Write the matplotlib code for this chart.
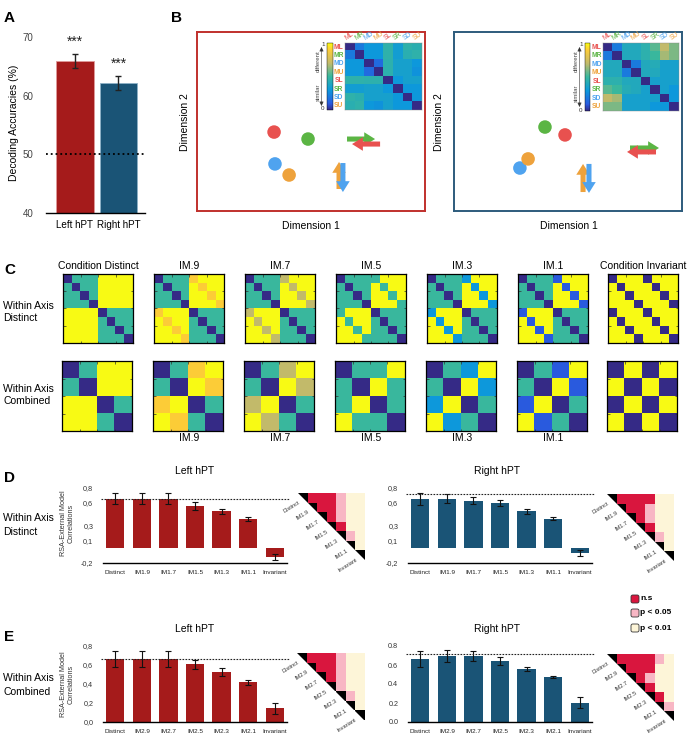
import numpy as np
import matplotlib
matplotlib.use('Agg')
import matplotlib.pyplot as plt
from matplotlib.colors import LinearSegmentedColormap, ListedColormap, Normalize
from matplotlib.patches import FancyArrowPatch, FancyBboxPatch, Polygon
from matplotlib.cm import ScalarMappable

plt.rcParams['font.family'] = ['Liberation Sans', 'DejaVu Sans']

# ---------------- data ----------------
# Panel A
a_regions = ['Left hPT', 'Right hPT']
a_accuracy = [65.9, 62.2]
a_sem = [1.2, 1.2]
a_chance = 50
a_stars = ['***', '***']
a_yticks = [40, 50, 60, 70]

# Panel B
cond_labels = ['ML', 'MR', 'MD', 'MU', 'SL', 'SR', 'SD', 'SU']
b_left_rdm = [
    [0.00, 0.20, 0.30, 0.30, 0.46, 0.33, 0.46, 0.44],
    [0.20, 0.00, 0.30, 0.30, 0.46, 0.33, 0.44, 0.46],
    [0.30, 0.30, 0.00, 0.15, 0.45, 0.35, 0.35, 0.30],
    [0.30, 0.30, 0.15, 0.00, 0.45, 0.35, 0.35, 0.28],
    [0.46, 0.46, 0.45, 0.45, 0.00, 0.30, 0.35, 0.35],
    [0.33, 0.33, 0.35, 0.35, 0.30, 0.00, 0.30, 0.30],
    [0.46, 0.44, 0.35, 0.35, 0.35, 0.30, 0.00, 0.30],
    [0.44, 0.46, 0.30, 0.28, 0.35, 0.30, 0.30, 0.00]]
b_right_rdm = [
    [0.00, 0.20, 0.40, 0.40, 0.45, 0.55, 0.70, 0.60],
    [0.20, 0.00, 0.40, 0.40, 0.45, 0.50, 0.66, 0.60],
    [0.40, 0.40, 0.00, 0.20, 0.40, 0.42, 0.35, 0.35],
    [0.40, 0.40, 0.20, 0.00, 0.40, 0.40, 0.35, 0.35],
    [0.45, 0.45, 0.40, 0.40, 0.00, 0.35, 0.35, 0.35],
    [0.55, 0.50, 0.42, 0.40, 0.35, 0.00, 0.35, 0.30],
    [0.70, 0.66, 0.35, 0.35, 0.35, 0.35, 0.00, 0.30],
    [0.60, 0.60, 0.35, 0.35, 0.35, 0.30, 0.30, 0.00]]
# MDS coordinates (fraction of box) for left/right/down/up motion points
b_left_pts_x = [0.338, 0.487, 0.342, 0.404]
b_left_pts_y = [0.441, 0.402, 0.263, 0.201]
b_right_pts_x = [0.487, 0.399, 0.289, 0.325]
b_right_pts_y = [0.425, 0.469, 0.240, 0.291]
# arrows (sound direction glyphs): right(green), left(red), up(orange), down(blue)
b_left_arr_x0 = [0.658, 0.803, 0.623, 0.640]
b_left_arr_y0 = [0.402, 0.374, 0.123, 0.268]
b_left_arr_x1 = [0.781, 0.680, 0.623, 0.640]
b_left_arr_y1 = [0.402, 0.374, 0.274, 0.106]
b_right_arr_x0 = [0.772, 0.886, 0.566, 0.592]
b_right_arr_y0 = [0.352, 0.330, 0.106, 0.263]
b_right_arr_x1 = [0.899, 0.759, 0.566, 0.592]
b_right_arr_y1 = [0.352, 0.330, 0.263, 0.101]

# Panel C
c_top_titles = ['Condition Distinct', 'IM.9', 'IM.7', 'IM.5', 'IM.3', 'IM.1', 'Condition Invariant']
c_bottom_titles = ['', 'IM.9', 'IM.7', 'IM.5', 'IM.3', 'IM.1', '']
c_cross_level = [1.0, 0.9, 0.7, 0.5, 0.3, 0.1, 0.0]
c_within_level = [0.5, 0.5, 0.5, 0.5, 0.5, 0.5, 1.0]

# Panels D / E
d_names = ['Distinct', 'IM1.9', 'IM1.7', 'IM1.5', 'IM1.3', 'IM1.1', 'Invariant']
e_names = ['Distinct', 'IM2.9', 'IM2.7', 'IM2.5', 'IM2.3', 'IM2.1', 'Invariant']
d_left_vals = [0.66, 0.66, 0.66, 0.56, 0.49, 0.39, -0.12]
d_left_errs = [0.07, 0.07, 0.07, 0.05, 0.035, 0.03, 0.04]
d_left_ref = 0.65
d_right_vals = [0.66, 0.66, 0.63, 0.60, 0.49, 0.39, -0.07]
d_right_errs = [0.08, 0.06, 0.045, 0.045, 0.033, 0.018, 0.04]
d_right_ref = 0.72
e_left_vals = [0.666, 0.666, 0.666, 0.607, 0.526, 0.418, 0.144]
e_left_errs = [0.084, 0.084, 0.084, 0.05, 0.04, 0.025, 0.06]
e_left_ref = 0.66
e_right_vals = [0.663, 0.695, 0.695, 0.642, 0.558, 0.474, 0.203]
e_right_errs = [0.082, 0.061, 0.053, 0.039, 0.026, 0.006, 0.056]
e_right_ref = 0.716
d_yticks = [-0.2, 0.1, 0.3, 0.6, 0.8]
d_yticklabels = ['-0,2', '0,1', '0,3', '0,6', '0,8']
e_yticks = [0.0, 0.2, 0.4, 0.6, 0.8]
e_left_yticklabels = ['0,0', '0,2', '0,4', '0,6', '0,8']
e_right_yticklabels = ['0.0', '0.2', '0.4', '0.6', '0.8']
# pairwise significance (upper triangle rows): 1 = n.s, 2 = p<0.05, 3 = p<0.01
d_left_sig = [[1, 1, 1, 2, 3, 3], [1, 1, 2, 3, 3], [1, 2, 3, 3], [1, 3, 3], [2, 3], [3]]
d_right_sig = [[1, 1, 1, 1, 3, 3], [1, 1, 2, 3, 3], [1, 2, 3, 3], [1, 3, 3], [2, 3], [3]]
e_left_sig = [[1, 1, 1, 2, 3, 3], [1, 1, 2, 3, 3], [1, 2, 3, 3], [2, 3, 3], [2, 3], [3]]
e_right_sig = [[1, 1, 1, 1, 2, 3], [1, 1, 1, 3, 3], [1, 2, 3, 3], [1, 3, 3], [1, 3], [2]]
legend_labels = ['n.s', 'p < 0.05', 'p < 0.01']

# ---------------- style ----------------
RED = '#a51b1b'
BLUE = '#1a5476'
C_RED = '#e8514f'
C_GREEN = '#5bb544'
C_BLUE = '#4fa3ef'
C_ORANGE = '#eea23c'
cond_colors = [C_RED, C_GREEN, C_BLUE, C_ORANGE] * 2
SIG_COLORS = ['#000000', '#d9163e', '#f8b6c4', '#fdf5d8']

parula_like = LinearSegmentedColormap.from_list('parula_like', [
    (0.0, (0.208, 0.166, 0.529)),
    (0.1, (0.16, 0.36, 0.88)),
    (0.3, (0.05, 0.60, 0.86)),
    (0.5, (0.22, 0.72, 0.62)),
    (0.7, (0.76, 0.73, 0.42)),
    (0.9, (0.99, 0.80, 0.22)),
    (1.0, (0.976, 0.984, 0.08))])

W, H = 688, 736
fig = plt.figure(figsize=(W / 100, H / 100), dpi=100)


def px_axes(x0, y0, x1, y1):
    return fig.add_axes([x0 / W, 1 - y1 / H, (x1 - x0) / W, (y1 - y0) / H])


ov_items = []  # text drawn on overlay later

# ---------------- Panel A ----------------
axA = px_axes(46, 25, 145, 213)
xa = np.arange(len(a_regions))
axA.bar(xa, a_accuracy, width=0.87, color=[RED, BLUE], edgecolor=['#e09a9a', '#8db1c6'],
        linewidth=0.6, yerr=a_sem,
        error_kw=dict(ecolor='#222222', elinewidth=1.0, capsize=2.5, capthick=1.0))
axA.axhline(a_chance, ls=':', color='k', lw=1.3)
for i, (v, e, s) in enumerate(zip(a_accuracy, a_sem, a_stars)):
    axA.text(i, v + e + 2.0, s, ha='center', va='center', fontsize=10, color='#222222')
axA.set_xlim(-0.667, 1.61)
axA.set_ylim(40, 72)
axA.set_yticks(a_yticks)
axA.set_yticklabels([str(t) for t in a_yticks])
axA.set_xticks(xa)
axA.set_xticklabels(a_regions)
axA.tick_params(axis='y', length=0, labelsize=7, labelcolor='#444444', pad=9)
axA.tick_params(axis='x', length=0, labelsize=7.1, pad=5)
for s in ['top', 'right', 'left']:
    axA.spines[s].set_visible(False)
axA.spines['bottom'].set_linewidth(1.0)
axA.patch.set_visible(False)

# ---------------- Panel B ----------------
arrow_cols = [C_GREEN, C_RED, C_ORANGE, C_BLUE]


def mds_box(x0, y0, x1, y1, edge, px, py, ax0, ay0, ax1, ay1):
    ax = px_axes(x0, y0, x1, y1)
    ax.set_xlim(0, 1)
    ax.set_ylim(0, 1)
    ax.set_xticks([])
    ax.set_yticks([])
    for s in ax.spines.values():
        s.set_color(edge)
        s.set_linewidth(1.4)
    ax.scatter(px, py, s=95, c=[C_RED, C_GREEN, C_BLUE, C_ORANGE], edgecolors='none', zorder=3)
    for k in range(4):
        arr = FancyArrowPatch((ax0[k], ay0[k]), (ax1[k], ay1[k]),
                              arrowstyle='simple,head_length=0.6,head_width=0.75,tail_width=0.28',
                              mutation_scale=13, color=arrow_cols[k], lw=0,
                              transform=ax.transData, shrinkA=0, shrinkB=0, zorder=3)
        ax.add_patch(arr)
    return ax


mds_box(197, 32, 425, 211, '#c0302c', b_left_pts_x, b_left_pts_y,
        b_left_arr_x0, b_left_arr_y0, b_left_arr_x1, b_left_arr_y1)
mds_box(454, 32, 682, 211, '#2d5b7c', b_right_pts_x, b_right_pts_y,
        b_right_arr_x0, b_right_arr_y0, b_right_arr_x1, b_right_arr_y1)


def inset_rdm(mx0, my0, mx1, my1, cbx0, cbx1, mat, txt_x):
    axm = px_axes(mx0, my0, mx1, my1)
    axm.imshow(np.array(mat), cmap=parula_like, vmin=0, vmax=1, aspect='auto',
               interpolation='nearest')
    axm.set_xticks([])
    axm.set_yticks([])
    for s in axm.spines.values():
        s.set_linewidth(0.3)
        s.set_color('#888888')
    n = len(cond_labels)
    cw = (mx1 - mx0) / n
    chh = (my1 - my0) / n
    for i, (lab, col) in enumerate(zip(cond_labels, cond_colors)):
        ov_items.append(dict(x=mx0 - 1.5, y=my0 + (i + 0.5) * chh, s=lab, color=col,
                             ha='right', va='center', fontsize=4.8, fontweight='bold'))
        ov_items.append(dict(x=mx0 + (i + 0.5) * cw, y=my0 - 1, s=lab, color=col,
                             ha='center', va='bottom', fontsize=4.8, rotation=35))
    axc = px_axes(cbx0, my0, cbx1, my1)
    cb = fig.colorbar(ScalarMappable(norm=Normalize(0, 1), cmap=parula_like), cax=axc)
    cb.set_ticks([])
    cb.outline.set_linewidth(0.3)
    ov_items.append(dict(x=cbx0 - 2.5, y=my0 + 1, s='1', ha='right', va='center', fontsize=4.5, color='#333333'))
    ov_items.append(dict(x=cbx0 - 2.5, y=my1 - 1, s='0', ha='right', va='center', fontsize=4.5, color='#333333'))
    ov_items.append(dict(x=txt_x, y=my0 + 0.27 * (my1 - my0), s='different', ha='center', va='center',
                         fontsize=4.3, rotation=90, color='#444444'))
    ov_items.append(dict(x=txt_x, y=my0 + 0.74 * (my1 - my0), s='similar', ha='center', va='center',
                         fontsize=4.3, rotation=90, color='#444444'))
    return txt_x + 3.5, my0 + 4, my1 - 4


arrB1 = inset_rdm(345, 43, 422, 110, 327, 333, b_left_rdm, 318)
arrB2 = inset_rdm(603, 43, 679, 111, 585, 590, b_right_rdm, 576)

# ---------------- Panel C ----------------
c_lefts = [63, 154, 245, 336, 427, 518, 608]


def model_distinct(within, cross):
    m = np.ones((8, 8))
    for i in range(8):
        for j in range(8):
            if i == j:
                m[i, j] = 0.0
            elif (i < 4) == (j < 4):
                m[i, j] = within
            elif abs(i - j) == 4:
                m[i, j] = cross
    return m


def model_combined(within, cross):
    m = np.ones((4, 4))
    for i in range(4):
        for j in range(4):
            if i == j:
                m[i, j] = 0.0
            elif i // 2 == j // 2:
                m[i, j] = within
            elif abs(i - j) == 2:
                m[i, j] = cross
    return m


def style_model_ax(ax, n):
    ax.set_xticks(np.arange(1.5, n - 1, 2) if n == 8 else [0.5, 1.5, 2.5])
    ax.set_yticks(np.arange(1.5, n - 1, 2) if n == 8 else [0.5, 1.5, 2.5])
    ax.tick_params(direction='in', length=1.8, width=0.5, top=True, right=True,
                   labelbottom=False, labelleft=False, colors='#333333')
    for s in ax.spines.values():
        s.set_linewidth(0.9)


for k in range(7):
    ax1 = px_axes(c_lefts[k], 274, c_lefts[k] + 70, 343)
    ax1.imshow(model_distinct(c_within_level[k], c_cross_level[k]), cmap=parula_like,
               vmin=0, vmax=1, aspect='auto', interpolation='nearest')
    style_model_ax(ax1, 8)
    ax2 = px_axes(c_lefts[k] - 1, 361, c_lefts[k] + 69, 431)
    ax2.imshow(model_combined(c_within_level[k], c_cross_level[k]), cmap=parula_like,
               vmin=0, vmax=1, aspect='auto', interpolation='nearest')
    style_model_ax(ax2, 4)
    ov_items.append(dict(x=c_lefts[k] + 35, y=266, s=c_top_titles[k], ha='center', va='center', fontsize=7.5))
    if c_bottom_titles[k]:
        ov_items.append(dict(x=c_lefts[k] + 35, y=438, s=c_bottom_titles[k], ha='center', va='center', fontsize=7.5))

# ---------------- Panels D / E ----------------


def bar_panel(x0, x1, yb, ppu, ylim, ticks, ticklabels, names, vals, errs, ref, color):
    top = yb - (ylim[1] - ylim[0]) * ppu
    ax = px_axes(x0, top, x1, yb)
    x = np.arange(len(names))
    ax.bar(x, vals, width=0.68, color=color, edgecolor='none', yerr=errs,
           error_kw=dict(ecolor='#111111', elinewidth=0.8, capsize=2.2, capthick=0.8))
    ax.axhline(ref, ls=(0, (1.5, 1.2)), color='#222222', lw=0.8, xmin=-0.01, xmax=1.01, clip_on=False)
    ax.set_xlim(-0.47, 6.47)
    ax.set_ylim(*ylim)
    ax.set_yticks(ticks)
    ax.set_yticklabels(ticklabels)
    ax.set_xticks(x)
    ax.set_xticklabels(names)
    ax.tick_params(axis='y', length=0, labelsize=5.2, pad=7, labelcolor='#333333')
    ax.tick_params(axis='x', length=0, labelsize=4.6, pad=5, labelcolor='#222222')
    for s in ['top', 'right', 'left']:
        ax.spines[s].set_visible(False)
    ax.spines['bottom'].set_linewidth(1.0)
    ax.patch.set_visible(False)
    return ax


def sig_triangle(x0, y0, size, rows, names):
    n = len(rows) + 1
    m = np.full((n, n), np.nan)
    for i in range(n):
        m[i, i] = 0
        if i < len(rows):
            for j, v in enumerate(rows[i]):
                m[i, i + 1 + j] = v
    ax = px_axes(x0, y0, x0 + size, y0 + size)
    ax.imshow(np.ma.masked_invalid(m), cmap=ListedColormap(SIG_COLORS), vmin=-0.5, vmax=3.5,
              aspect='auto', interpolation='nearest')
    ax.add_patch(Polygon([(-0.5, -0.5), (n - 0.5, n - 0.5), (-0.5, n - 0.5)], closed=True,
                         facecolor='white', edgecolor='none', zorder=3))
    ax.set_xlim(-0.5, n - 0.5)
    ax.set_ylim(n - 0.5, -0.5)
    ax.axis('off')
    for i, nm in enumerate(names):
        ax.text(i - 0.35, i + 0.45, nm, rotation=32, rotation_mode='anchor', ha='right',
                va='center', fontsize=4.1, color='#333333', zorder=4, clip_on=False)
    return ax


bar_panel(103, 287, 563, 75, (-0.2, 0.85), d_yticks, d_yticklabels, d_names,
          d_left_vals, d_left_errs, d_left_ref, RED)
bar_panel(408, 592, 563, 75, (-0.2, 0.85), d_yticks, d_yticklabels, d_names,
          d_right_vals, d_right_errs, d_right_ref, BLUE)
bar_panel(103, 287, 722, 95, (0.0, 0.85), e_yticks, e_left_yticklabels, e_names,
          e_left_vals, e_left_errs, e_left_ref, RED)
bar_panel(408, 592, 722, 95, (0.0, 0.85), e_yticks, e_right_yticklabels, e_names,
          e_right_vals, e_right_errs, e_right_ref, BLUE)

sig_triangle(298, 493, 67, d_left_sig, d_names)
sig_triangle(607, 494, 67, d_right_sig, d_names)
sig_triangle(297, 653, 67, e_left_sig, e_names)
sig_triangle(607, 654, 67, e_right_sig, e_names)

# ---------------- overlay (texts, legend) ----------------
ov = fig.add_axes([0, 0, 1, 1], zorder=20)
ov.set_xlim(0, W)
ov.set_ylim(H, 0)
ov.axis('off')

for it in ov_items:
    d = dict(it)
    x, y, s = d.pop('x'), d.pop('y'), d.pop('s')
    ov.text(x, y, s, **d)

for (ax_, ytop, ybot) in [arrB1, arrB2]:
    ov.annotate('', xy=(ax_, ytop), xytext=(ax_, ybot),
                arrowprops=dict(arrowstyle='<|-|>,head_length=0.25,head_width=0.12', lw=0.4, color='#333333',
                                shrinkA=0, shrinkB=0))

for lab, x, y in [('A', 4, 18), ('B', 171, 18), ('C', 4, 270), ('D', 4, 478), ('E', 4, 637)]:
    ov.text(x, y, lab, fontsize=11, fontweight='bold', va='center', ha='left')

ov.text(14, 123, 'Decoding Accuracies (%)', rotation=90, fontsize=7.5, ha='center', va='center')
ov.text(185, 122, 'Dimension 2', rotation=90, fontsize=7.5, ha='center', va='center')
ov.text(439, 122, 'Dimension 2', rotation=90, fontsize=7.5, ha='center', va='center')
ov.text(311, 226, 'Dimension 1', fontsize=7.5, ha='center', va='center')
ov.text(569, 226, 'Dimension 1', fontsize=7.5, ha='center', va='center')

ov.text(3, 312, 'Within Axis\nDistinct', fontsize=7.5, ha='left', va='center', linespacing=1.25)
ov.text(3, 395, 'Within Axis\nCombined', fontsize=7.5, ha='left', va='center', linespacing=1.25)
ov.text(3, 525, 'Within Axis\nDistinct', fontsize=7.5, ha='left', va='center', linespacing=1.45)
ov.text(3, 685, 'Within Axis\nCombined', fontsize=7.5, ha='left', va='center', linespacing=1.45)

ov.text(195, 471, 'Left hPT', fontsize=7.5, ha='center', va='center')
ov.text(497, 471, 'Right hPT', fontsize=7.5, ha='center', va='center')
ov.text(195, 629, 'Left hPT', fontsize=7.5, ha='center', va='center')
ov.text(497, 629, 'Right hPT', fontsize=7.5, ha='center', va='center')

ov.text(67, 523, 'RSA-External Model\nCorrelations', rotation=90, fontsize=5.2, ha='center',
        va='center', linespacing=1.1, color='#333333')
ov.text(67, 684, 'RSA-External Model\nCorrelations', rotation=90, fontsize=5.2, ha='center',
        va='center', linespacing=1.1, color='#333333')

for k, (lab, y) in enumerate(zip(legend_labels, [599, 613, 628])):
    ov.add_patch(FancyBboxPatch((631, y - 4), 8, 8, boxstyle='round,pad=0,rounding_size=1.8',
                                facecolor=SIG_COLORS[k + 1], edgecolor='#333333', lw=0.6))
    ov.text(640.5, y, lab, fontsize=6, fontweight='bold', ha='left', va='center')

fig.savefig('out.png', dpi=100)
